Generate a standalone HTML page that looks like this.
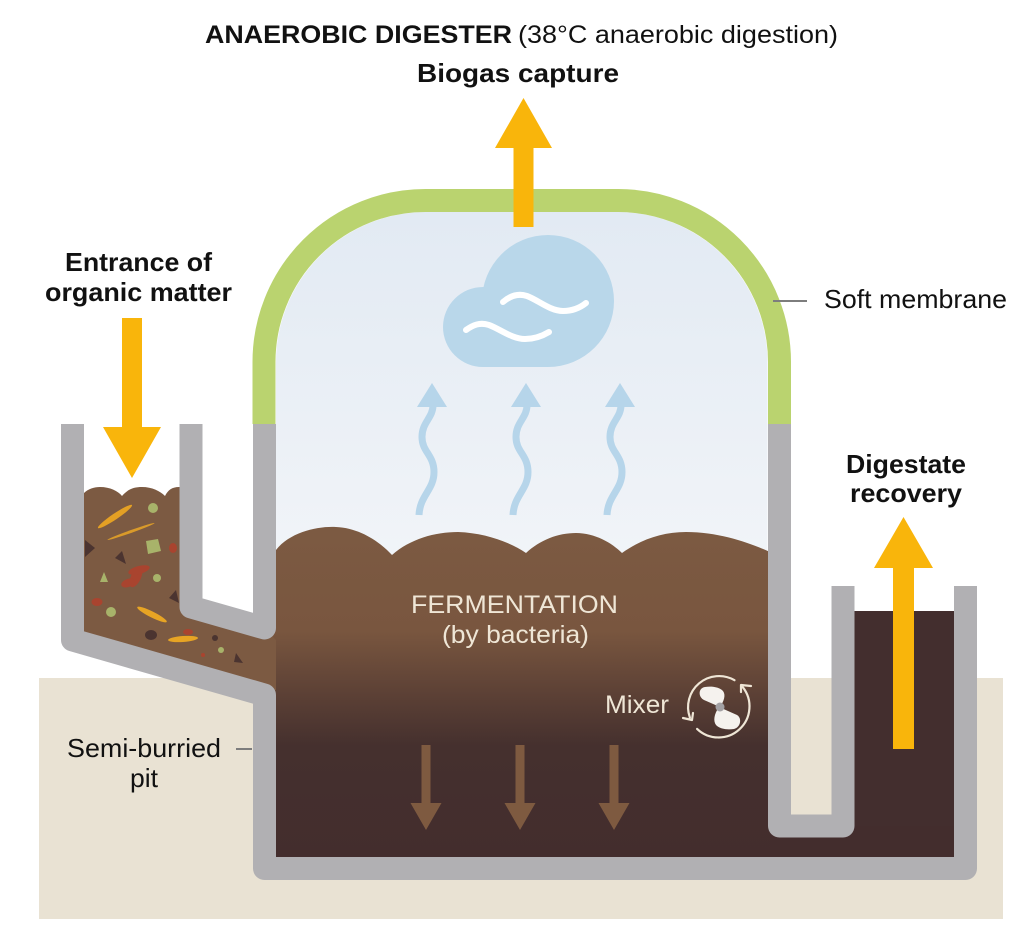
<!DOCTYPE html>
<html>
<head>
<meta charset="utf-8">
<style>
html,body{margin:0;padding:0;background:#ffffff;}
svg{display:block;}
</style>
</head>
<body>
<svg width="1024" height="931" viewBox="0 0 1024 931" xmlns="http://www.w3.org/2000/svg" font-family="'Liberation Sans', Arial, sans-serif">
<defs>
  <linearGradient id="dome" x1="0" y1="212" x2="0" y2="560" gradientUnits="userSpaceOnUse">
    <stop offset="0" stop-color="#e2eaf3"/>
    <stop offset="1" stop-color="#f1f4f8"/>
  </linearGradient>
  <linearGradient id="ferm" x1="0" y1="530" x2="0" y2="857" gradientUnits="userSpaceOnUse">
    <stop offset="0" stop-color="#7c5a42"/>
    <stop offset="0.31" stop-color="#79563f"/>
    <stop offset="0.49" stop-color="#5e4236"/>
    <stop offset="0.66" stop-color="#45302e"/>
    <stop offset="1" stop-color="#432d2d"/>
  </linearGradient>
</defs>

<!-- ground -->
<rect x="39" y="678" width="964" height="241" fill="#e9e2d3"/>

<!-- dome interior -->
<path d="M276,560 L276,362 A150,150 0 0 1 426,212 L617.5,212 A150,150 0 0 1 767.5,362 L767.5,560 Z" fill="url(#dome)"/>

<!-- main chamber fill -->
<path d="M266,552 L276,550 C290,532 318,526 336,527 C360,528 380,542 392,555 C410,539 435,532 458,532 C485,533 510,542 526,553 C540,540 558,533 576,533 C595,533 612,543 622,553 C640,540 662,532 686,532 C720,532 750,543 770,552 L780,552 L780,860 L264,860 Z" fill="url(#ferm)"/>

<!-- outlet fill + connection -->
<rect x="843" y="611" width="123" height="250" fill="#432e2e"/>
<rect x="770" y="826" width="196" height="35" fill="#432d2d"/>

<!-- inlet fill -->
<path d="M72.5,494 L84,493 C88,489 94,487 100,487 C110,487 118,491 122,496 C128,489 134,487 142,487 C152,487 160,491 165,496 C168,490 172,487 179,487 L191,487 L191,607 L264.5,628 L276,640 L276,690 L264.5,695 L72.5,640 Z" fill="#7c5a42"/>

<!-- debris -->
<g>
  <ellipse cx="115" cy="516.5" rx="20.5" ry="3" transform="rotate(-34 115 516.5)" fill="#e4a024"/>
  <ellipse cx="131" cy="531.5" rx="25" ry="1.4" transform="rotate(-19.5 131 531.5)" fill="#d99a2a"/>
  <ellipse cx="152" cy="614.5" rx="16.5" ry="3" transform="rotate(26.6 152 614.5)" fill="#e7a424"/>
  <ellipse cx="183" cy="639" rx="15" ry="3" transform="rotate(-4 183 639)" fill="#e7a424"/>
  <circle cx="153" cy="508" r="5" fill="#a8b36a"/>
  <circle cx="157" cy="578" r="4" fill="#a8b36a"/>
  <circle cx="111" cy="612" r="5" fill="#a8b36a"/>
  <circle cx="221" cy="650" r="3" fill="#a8b36a"/>
  <polygon points="146,541 158,539 161,551 148,554" fill="#a8b36a"/>
  <polygon points="100,582 104,572 108,582" fill="#a8b36a"/>
  <polygon points="85,540 95,548 85,557" fill="#4b3430"/>
  <polygon points="115,558 122,551 126,564" fill="#4b3430"/>
  <polygon points="169,598 176,590 179,603" fill="#4b3430"/>
  <ellipse cx="151" cy="635" rx="6" ry="5" fill="#4b3430"/>
  <circle cx="215" cy="638" r="3" fill="#4b3430"/>
  <polygon points="236,653 243,663 234,662" fill="#4b3430"/>
  <ellipse cx="173" cy="548" rx="4" ry="5" fill="#a9442f"/>
  <ellipse cx="97" cy="602" rx="5.5" ry="4" fill="#a9442f"/>
  <ellipse cx="188" cy="632" rx="5" ry="3" fill="#a9442f"/>
  <circle cx="203" cy="655" r="2" fill="#a9442f"/>
  <ellipse cx="136" cy="577" rx="5" ry="11" transform="rotate(25 136 577)" fill="#a9442f"/>
  <ellipse cx="139" cy="570" rx="11" ry="4" transform="rotate(-15 139 570)" fill="#a9442f"/>
  <ellipse cx="128" cy="583" rx="7" ry="4" transform="rotate(-20 128 583)" fill="#a9442f"/>
</g>

<!-- walls -->
<g fill="none" stroke="#b1b0b3" stroke-width="23" stroke-linejoin="round" stroke-linecap="butt">
  <path d="M72.5,424 L72.5,640 L264.5,695 L264.5,868.5 L965.5,868.5 L965.5,586"/>
  <path d="M191,424 L191,607 L264.5,628 L264.5,424"/>
  <path d="M779.5,424 L779.5,826 L843,826 L843,586"/>
</g>

<!-- green membrane -->
<path d="M264,424 L264,362 A161.5,161.5 0 0 1 425.5,200.5 L618,200.5 A161.5,161.5 0 0 1 779.5,362 L779.5,424" fill="none" stroke="#bad36f" stroke-width="23"/>

<!-- cloud -->
<g fill="#b9d7ea">
  <circle cx="548" cy="301" r="66"/>
  <circle cx="483" cy="327" r="40"/>
  <rect x="483" y="327" width="65" height="40"/>
</g>
<g fill="none" stroke="#ffffff" stroke-width="6" stroke-linecap="round">
  <path d="M503,302 C510,296 518,293 527,296 C538,300 550,311 563,311 C573,311 581,307 586,303"/>
  <path d="M466,330 C473,325 480,322 489,325 C500,329 512,339 525,339 C536,339 544,335 549,332"/>
</g>

<!-- blue wavy arrows -->
<g fill="#b6d5ea">
  <polygon points="432,383 447,407 417,407"/>
  <polygon points="526,383 541,407 511,407"/>
  <polygon points="620,383 635,407 605,407"/>
</g>
<g fill="none" stroke="#b6d5ea" stroke-width="7">
  <path d="M433,405 C433,418 422,422 422,437 C422,452 434,455 434,472 C434,490 420,495 419,515"/>
  <path d="M527,405 C527,418 516,422 516,437 C516,452 528,455 528,472 C528,490 514,495 513,515"/>
  <path d="M621,405 C621,418 610,422 610,437 C610,452 622,455 622,472 C622,490 608,495 607,515"/>
</g>

<!-- orange arrows -->
<g fill="#f9b50b">
  <polygon points="513.5,227 533.5,227 533.5,148 552,148 523.5,98 495,148 513.5,148"/>
  <polygon points="122,318 142,318 142,427 161,427 132,478 103,427 122,427"/>
  <polygon points="893,749 914,749 914,568 933,568 903.5,517 874,568 893,568"/>
</g>

<!-- brown down arrows -->
<g fill="#7e5a40">
  <polygon points="421.5,745 430.5,745 430.5,803 441.5,803 426,830 410.5,803 421.5,803"/>
  <polygon points="515.5,745 524.5,745 524.5,803 535.5,803 520,830 504.5,803 515.5,803"/>
  <polygon points="609.5,745 618.5,745 618.5,803 629.5,803 614,830 598.5,803 609.5,803"/>
</g>

<!-- mixer icon -->
<g fill="none" stroke="#efe6d6" stroke-width="2.2" stroke-linecap="round" stroke-linejoin="round">
  <path d="M689.9,717.6 A31,31 0 0 1 734.5,680.2"/>
  <path d="M742.7,687.1 A31,31 0 0 1 697.1,728.9"/>
  <polyline points="741,692 741,685 751,686"/>
  <polyline points="683,718 692,720 693,713"/>
</g>
<g fill="#f5f2ee">
  <path d="M720,707 L704,700 C698,697 698,688 705,687 C712,686 719,687 723,691 C726,695 724,701 720,707 Z"/>
  <path d="M719,707 L737,715 C742,718 741,727 734,729 C727,730 720,729 716,725 C713,721 714,714 719,707 Z"/>
</g>
<circle cx="720" cy="707" r="4.5" fill="#a3a1a4"/>

<!-- leader lines -->
<line x1="773" y1="301" x2="807" y2="301" stroke="#7d7d7d" stroke-width="2"/>
<line x1="236" y1="749" x2="252" y2="749" stroke="#7d7d7d" stroke-width="2"/>

<!-- text -->
<g fill="#111111">
  <text x="205" y="43" font-size="25" font-weight="bold" textLength="307" lengthAdjust="spacingAndGlyphs">ANAEROBIC DIGESTER</text>
  <text x="518" y="43" font-size="25" textLength="320" lengthAdjust="spacingAndGlyphs">(38°C anaerobic digestion)</text>
  <text x="417" y="82" font-size="26" font-weight="bold" textLength="202" lengthAdjust="spacingAndGlyphs">Biogas capture</text>
  <text x="65" y="271" font-size="26" font-weight="bold" textLength="147" lengthAdjust="spacingAndGlyphs">Entrance of</text>
  <text x="45" y="301" font-size="26" font-weight="bold" textLength="187" lengthAdjust="spacingAndGlyphs">organic matter</text>
  <text x="824" y="308" font-size="26" textLength="183" lengthAdjust="spacingAndGlyphs">Soft membrane</text>
  <text x="846" y="473" font-size="26" font-weight="bold" textLength="120" lengthAdjust="spacingAndGlyphs">Digestate</text>
  <text x="850" y="502" font-size="26" font-weight="bold" textLength="112" lengthAdjust="spacingAndGlyphs">recovery</text>
  <text x="67" y="757" font-size="26" textLength="154" lengthAdjust="spacingAndGlyphs">Semi-burried</text>
  <text x="130" y="787" font-size="26" textLength="28" lengthAdjust="spacingAndGlyphs">pit</text>
</g>
<g fill="#efe6d6">
  <text x="411" y="613" font-size="25" textLength="207" lengthAdjust="spacingAndGlyphs">FERMENTATION</text>
  <text x="442" y="643" font-size="25" textLength="147" lengthAdjust="spacingAndGlyphs">(by bacteria)</text>
  <text x="605" y="713" font-size="25" textLength="64" lengthAdjust="spacingAndGlyphs">Mixer</text>
</g>
</svg>
</body>
</html>
